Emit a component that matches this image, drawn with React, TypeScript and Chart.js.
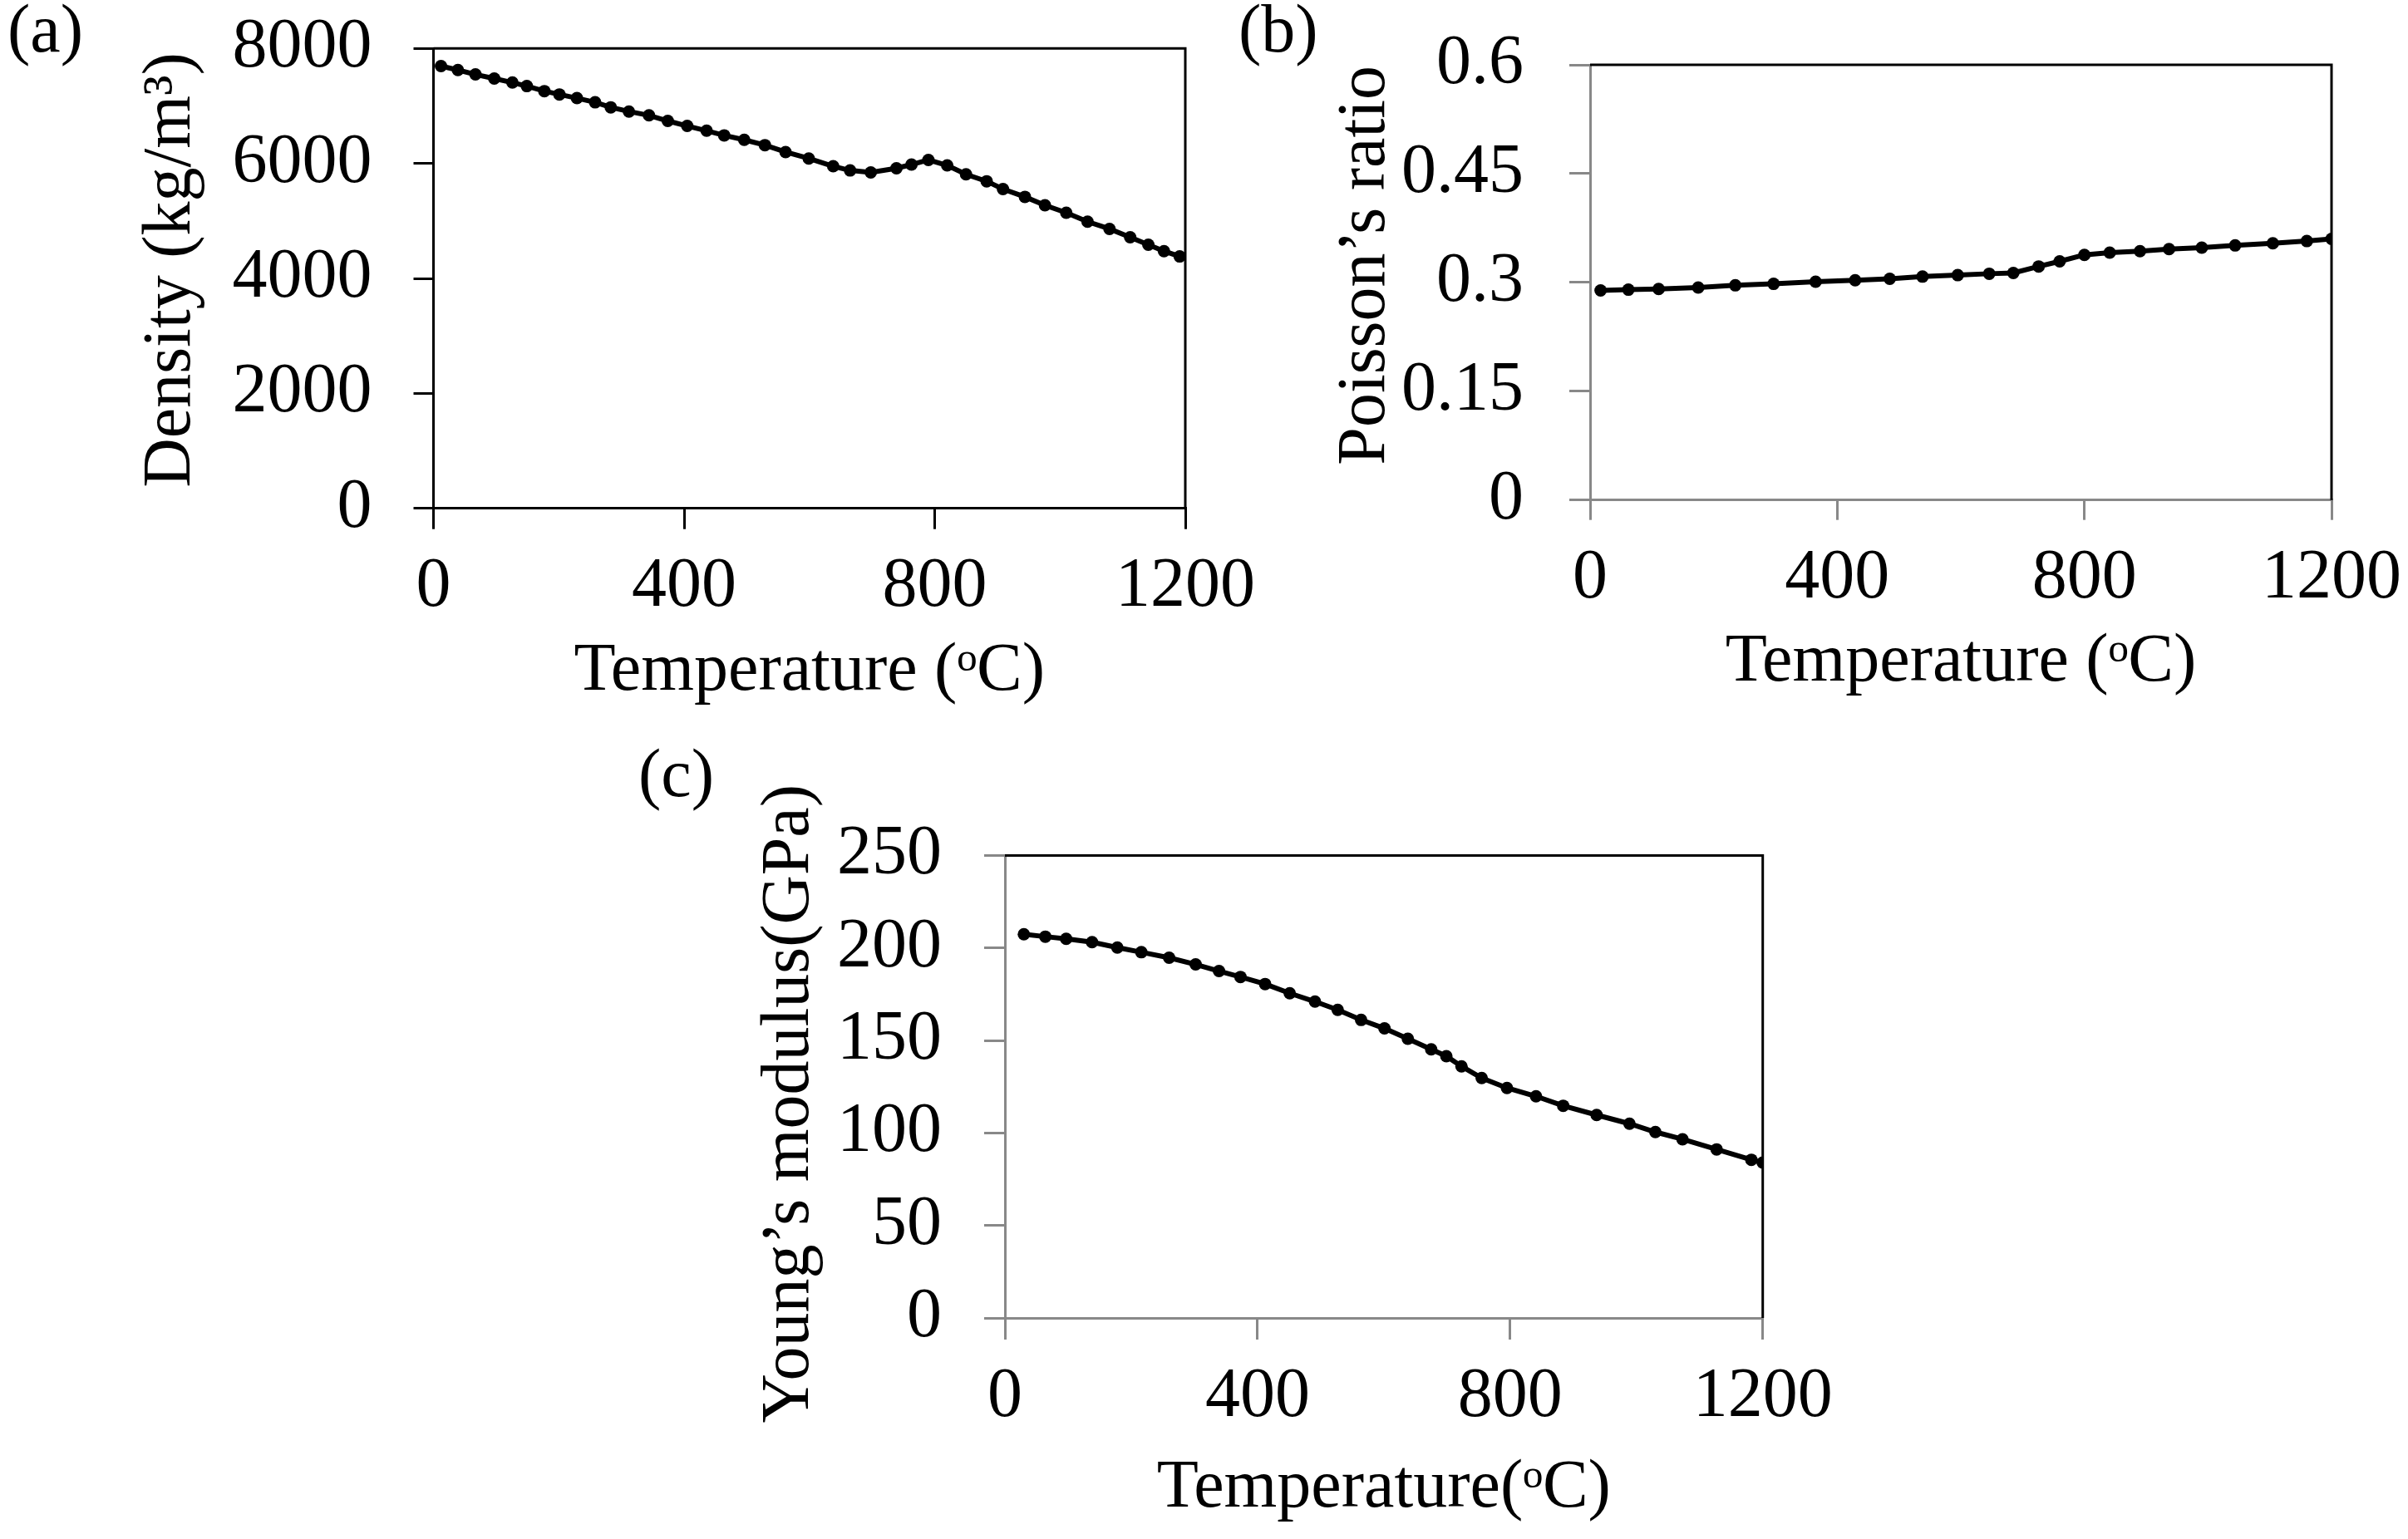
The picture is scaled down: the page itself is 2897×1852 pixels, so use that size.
import Chart from "chart.js/auto";
import type { Plugin } from "chart.js";
import { useRef, useEffect } from "react";

const PAGE_W = 2897;
const PAGE_H = 1852;
const SERIF = "'Liberation Serif', 'Times New Roman', serif";
const TICK_SIZE = 84;
const TITLE_SIZE = 82;
const GRAY = "#888888";

// shared x axis (temperature, °C)
const tempTicks = [0, 400, 800, 1200];

// (a) density
const densityTemps = [
  12, 39, 67, 97, 126, 149, 177, 201, 229, 258, 283, 312, 344, 374, 405, 436,
  464, 496, 529, 562, 599, 638, 665, 698, 739, 763, 790, 820, 850, 883, 909,
  944, 976, 1010, 1044, 1079, 1112, 1141, 1166, 1191,
];
const densityValues = [
  7694, 7625, 7548, 7476, 7407, 7345, 7258, 7200, 7136, 7063, 6976, 6903,
  6836, 6739, 6652, 6569, 6488, 6410, 6318, 6198, 6086, 5951, 5878, 5843,
  5916, 5980, 6061, 5965, 5810, 5689, 5553, 5418, 5272, 5142, 4986, 4861,
  4716, 4585, 4474, 4382,
];
const densityTicks = [0, 2000, 4000, 6000, 8000];

// (b) Poisson's ratio
const poissonTemps = [
  17, 62, 111, 175, 235, 297, 365, 429, 485, 538, 595, 646, 685, 726, 760,
  800, 841, 890, 937, 990, 1044, 1105, 1160, 1200,
];
const poissonValues = [
  0.289, 0.29, 0.291, 0.293, 0.296, 0.298, 0.301, 0.303, 0.305, 0.308, 0.31,
  0.312, 0.313, 0.322, 0.329, 0.338, 0.341, 0.343, 0.346, 0.348, 0.351,
  0.354, 0.357, 0.36,
];
const poissonTicks = [0, 0.15, 0.3, 0.45, 0.6];

// (c) Young's modulus
const youngTemps = [
  30, 64, 97, 138, 178, 216, 260, 302, 339, 373, 412, 451, 491, 527, 564, 601,
  638, 675, 699, 723, 755, 795, 841, 884, 937, 989, 1030, 1073, 1127, 1182,
  1200,
];
const youngValues = [
  207.4, 206.1, 204.9, 203.1, 200.2, 197.7, 194.7, 191.1, 187.5, 184.3, 180.5,
  175.5, 171.0, 166.5, 161.1, 156.5, 150.9, 145.2, 141.5, 136.0, 129.7, 124.3,
  119.8, 114.7, 109.7, 105.0, 100.5, 96.6, 91.1, 85.5, 84,
];
const youngTicks = [0, 50, 100, 150, 200, 250];

interface PanelProps {
  tag: string;
  tagX: number;
  tagY: number;
  xTitle: string;
  yTitle: string;
  temps: number[];
  values: number[];
  yTicks: number[];
  area: { left: number; top: number; right: number; bottom: number };
  yTitleX: number;
  xTitleY: number;
  axisColor: string;
  yTickLen: number;
  yTickPad: number;
  xTickLen: number;
  xTickPad: number;
}

// black top/right edges of the plot box
const framePlugin: Plugin = {
  id: "frame",
  afterDatasetsDraw(chart) {
    const { ctx, chartArea } = chart;
    ctx.save();
    ctx.strokeStyle = "#000";
    ctx.lineWidth = 3;
    ctx.beginPath();
    ctx.moveTo(chartArea.left, chartArea.top);
    ctx.lineTo(chartArea.right, chartArea.top);
    ctx.lineTo(chartArea.right, chartArea.bottom);
    ctx.stroke();
    ctx.restore();
  },
};

// "(a)", "(b)", "(c)"
const tagPlugin: Plugin = {
  id: "panelTag",
  afterDraw(chart, _args, opts: any) {
    const ctx = chart.ctx;
    ctx.save();
    ctx.font = `${TITLE_SIZE}px ${SERIF}`;
    ctx.fillStyle = "#000";
    ctx.textAlign = "left";
    ctx.textBaseline = "alphabetic";
    ctx.fillText(opts.text, opts.x, opts.y);
    ctx.restore();
  },
};

const fmt = (v: number) => String(Number(v.toFixed(2)));

// keep the plot box where we put it: no extra room for label overflow
const noOverflow = (s: any) => {
  s.paddingTop = 0;
  s.paddingBottom = 0;
  s.paddingLeft = 0;
  s.paddingRight = 0;
};

const Panel: React.FC<PanelProps> = (p) => {
  const chartRef = useRef<HTMLCanvasElement>(null);
  const chartInstance = useRef<Chart>();

  useEffect(() => {
    if (!chartRef.current) return;
    const titleLh = TITLE_SIZE * 1.2;
    const padLeft = p.yTitleX - titleLh / 2;
    const xBottom = p.xTitleY + titleLh / 2;
    const tickFont = { family: SERIF, size: TICK_SIZE };
    const titleFont = { family: SERIF, size: TITLE_SIZE };

    if (chartInstance.current) chartInstance.current.destroy();
    chartInstance.current = new Chart(chartRef.current, {
      type: "line",
      data: {
        datasets: [
          {
            data: p.temps.map((t, i) => ({ x: t, y: p.values[i] })),
            borderColor: "#000",
            backgroundColor: "#000",
            borderWidth: 6,
            pointRadius: 7.5,
            pointBorderWidth: 0,
            pointBackgroundColor: "#000",
            tension: 0,
            fill: false,
          },
        ],
      },
      options: {
        animation: false,
        responsive: false,
        events: [],
        layout: {
          padding: {
            left: padLeft,
            top: p.area.top,
            right: PAGE_W - p.area.right,
            bottom: PAGE_H - xBottom,
          },
        },
        plugins: {
          legend: { display: false },
          tooltip: { enabled: false },
          panelTag: { text: p.tag, x: p.tagX, y: p.tagY },
        } as any,
        scales: {
          x: {
            type: "linear",
            min: 0,
            max: 1200,
            afterBuildTicks: (s) => {
              s.ticks = tempTicks.map((v) => ({ value: v }));
            },
            afterFit: (s) => {
              s.height = xBottom - p.area.bottom;
              noOverflow(s);
            },
            ticks: {
              font: tickFont,
              color: "#000",
              padding: p.xTickPad,
              maxRotation: 0,
              autoSkip: false,
              callback: (v) => String(v),
            },
            grid: {
              drawOnChartArea: false,
              drawTicks: true,
              tickLength: p.xTickLen,
              tickWidth: 3,
              tickColor: p.axisColor,
              color: p.axisColor,
              lineWidth: 3,
            },
            border: { display: true, color: p.axisColor, width: 3 },
            title: {
              display: true,
              text: p.xTitle,
              font: titleFont,
              color: "#000",
              padding: 0,
            },
          },
          y: {
            type: "linear",
            min: 0,
            max: p.yTicks[p.yTicks.length - 1],
            afterBuildTicks: (s) => {
              s.ticks = p.yTicks.map((v) => ({ value: v }));
            },
            afterFit: (s) => {
              s.width = p.area.left - padLeft;
              noOverflow(s);
            },
            ticks: {
              font: tickFont,
              color: "#000",
              padding: p.yTickPad,
              autoSkip: false,
              callback: (v) => fmt(Number(v)),
            },
            grid: {
              drawOnChartArea: false,
              drawTicks: true,
              tickLength: p.yTickLen,
              tickWidth: 3,
              tickColor: p.axisColor,
              color: p.axisColor,
              lineWidth: 3,
            },
            border: { display: true, color: p.axisColor, width: 3 },
            title: {
              display: true,
              text: p.yTitle,
              font: titleFont,
              color: "#000",
              padding: 0,
            },
          },
        },
      },
      plugins: [framePlugin, tagPlugin],
    });

    return () => {
      if (chartInstance.current) {
        chartInstance.current.destroy();
        chartInstance.current = undefined;
      }
    };
  }, [p]);

  return (
    <canvas
      ref={chartRef}
      width={PAGE_W}
      height={PAGE_H}
      style={{ position: "absolute", left: 0, top: 0, width: PAGE_W, height: PAGE_H }}
    ></canvas>
  );
};

// the y titles sit a little off-centre in the original; spaces nudge them
const panelA: PanelProps = {
  tag: "(a)",
  tagX: 9,
  tagY: 62,
  xTitle: "Temperature (ᵒC)",
  yTitle: " Density (kg/m³)",
  temps: densityTemps,
  values: densityValues,
  yTicks: densityTicks,
  area: { left: 521.5, top: 58.3, right: 1426, bottom: 611.7 },
  yTitleX: 206,
  xTitleY: 808,
  axisColor: "#000",
  yTickLen: 24,
  yTickPad: 50,
  xTickLen: 25,
  xTickPad: 20,
};

const panelB: PanelProps = {
  tag: "(b)",
  tagX: 1490,
  tagY: 62,
  xTitle: "Temperature (ᵒC)",
  yTitle: "  Poisson’s ratio",
  temps: poissonTemps,
  values: poissonValues,
  yTicks: poissonTicks,
  area: { left: 1913, top: 78, right: 2805, bottom: 601.7 },
  yTitleX: 1643,
  xTitleY: 797,
  axisColor: GRAY,
  yTickLen: 25,
  yTickPad: 55,
  xTickLen: 24,
  xTickPad: 21,
};

const panelC: PanelProps = {
  tag: "(c)",
  tagX: 768,
  tagY: 958,
  xTitle: "Temperature(ᵒC)",
  yTitle: "Young’s modulus(GPa)  ",
  temps: youngTemps,
  values: youngValues,
  yTicks: youngTicks,
  area: { left: 1209, top: 1029.4, right: 2120.7, bottom: 1586 },
  yTitleX: 950,
  xTitleY: 1791.5,
  axisColor: GRAY,
  yTickLen: 25,
  yTickPad: 51,
  xTickLen: 26,
  xTickPad: 20,
};

export default function App() {
  return (
    <div
      style={{
        position: "absolute",
        left: 0,
        top: 0,
        width: PAGE_W,
        height: PAGE_H,
        background: "#fff",
        overflow: "hidden",
      }}
    >
      <Panel {...panelA} />
      <Panel {...panelB} />
      <Panel {...panelC} />
    </div>
  );
}
